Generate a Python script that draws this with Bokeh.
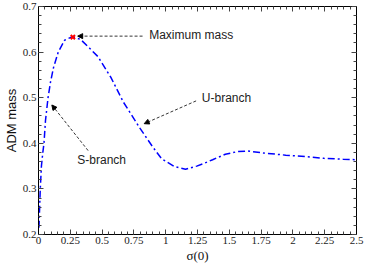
from bokeh.plotting import figure
from bokeh.models import (Range1d, FixedTicker, LinearAxis, Arrow, NormalHead,
                          ColumnDataSource, CustomJSTickFormatter)
from bokeh.core.properties import value
from bokeh.embed import file_html
from bokeh.resources import INLINE

# ---- data ----
sigma0 = [0.003, 0.005, 0.009, 0.014, 0.023, 0.034, 0.043, 0.055, 0.075, 0.095,
          0.118, 0.155, 0.205, 0.268, 0.33, 0.40, 0.468, 0.568, 0.668, 0.793,
          0.893, 0.968, 1.068, 1.156, 1.244, 1.30, 1.369, 1.469, 1.569, 1.644,
          1.794, 1.944, 2.094, 2.245, 2.395, 2.5]
adm_mass = [0.215, 0.225, 0.26, 0.30, 0.35, 0.38, 0.40, 0.45, 0.50, 0.535,
            0.566, 0.600, 0.626, 0.634, 0.628, 0.609, 0.590, 0.545, 0.490, 0.435,
            0.394, 0.366, 0.349, 0.343, 0.350, 0.356, 0.364, 0.376, 0.382, 0.383,
            0.378, 0.374, 0.371, 0.367, 0.365, 0.364]

max_sigma = [0.27]
max_mass = [0.633]

x_ticks = [0, 0.25, 0.5, 0.75, 1, 1.25, 1.5, 1.75, 2, 2.25, 2.5]
x_tick_labels = ["0", "0.25", "0.5", "0.75", "1", "1.25", "1.5", "1.75", "2", "2.25", "2.5"]
y_ticks = [0.2, 0.3, 0.4, 0.5, 0.6, 0.7]
y_tick_labels = ["0.2", "0.3", "0.4", "0.5", "0.6", "0.7"]
x_minor = [round(i * 0.05, 2) for i in range(51)]
y_minor = [round(0.2 + i * 0.02, 2) for i in range(26)]

ann_texts = ["Maximum mass", "U-branch", "S-branch"]
ann_text_x = [0.87, 1.284, 0.305]
ann_text_y = [0.638, 0.500, 0.3626]
arrow_x_start = [0.818, 1.239, 0.39]
arrow_y_start = [0.635, 0.493, 0.384]
arrow_x_end = [0.308, 0.831, 0.105]
arrow_y_end = [0.635, 0.443, 0.484]

# ---- figure ----
p = figure(width=366, height=265, x_range=Range1d(0, 2.5), y_range=Range1d(0.2, 0.7),
           output_backend="svg", toolbar_location=None,
           min_border_left=0, min_border_right=10, min_border_top=6, min_border_bottom=0,
           x_axis_label="σ(0)", y_axis_label="ADM mass")
p.grid.visible = False
p.outline_line_color = "black"
p.outline_line_width = 1
p.background_fill_color = "white"
p.border_fill_color = "white"

p.add_layout(LinearAxis(), "above")
p.add_layout(LinearAxis(), "right")


def style(ax, ticks, minor, labels, show):
    ax.ticker = FixedTicker(ticks=ticks, minor_ticks=minor)
    ax.axis_line_color = "black"
    ax.major_tick_in = 5
    ax.major_tick_out = 0
    ax.minor_tick_in = 3
    ax.minor_tick_out = 0
    ax.major_tick_line_color = "#444444"
    ax.minor_tick_line_color = "#444444"
    if show:
        ax.major_label_overrides = {t: l for t, l in zip(ticks, labels)}
        ax.major_label_text_font = "Liberation Serif"
        ax.major_label_text_font_size = "11px"
        ax.major_label_text_color = "#222222"
        ax.major_label_standoff = 2
        ax.axis_label_standoff = 1
        ax.axis_label_text_font_style = "normal"
        ax.axis_label_text_color = "#111111"
        ax.axis_label_text_font_size = "13px"
    else:
        ax.formatter = CustomJSTickFormatter(code="return ''")
        ax.major_label_standoff = 0
        ax.axis_label = None


style(p.below[0], x_ticks, x_minor, x_tick_labels, True)
style(p.left[0], y_ticks, y_minor, y_tick_labels, True)
style(p.above[0], x_ticks, x_minor, x_tick_labels, False)
style(p.right[0], y_ticks, y_minor, y_tick_labels, False)
p.below[0].axis_label_text_font = "Liberation Serif"
p.left[0].axis_label_text_font = "Liberation Sans"

# curve
p.line(sigma0, adm_mass, line_color="#0000ff", line_width=1.5, line_dash="7 3 2 3")

# maximum mass marker
p.scatter(max_sigma, max_mass, marker="x", size=6, line_color="red", line_width=2)

# arrows
for xs, ys, xe, ye in zip(arrow_x_start, arrow_y_start, arrow_x_end, arrow_y_end):
    p.add_layout(Arrow(end=NormalHead(size=5, fill_color="black", line_color="black"),
                       x_start=xs, y_start=ys, x_end=xe, y_end=ye,
                       line_color="black", line_width=0.8, line_dash="3 2"))

src = ColumnDataSource(dict(x=ann_text_x, y=ann_text_y, t=ann_texts))
p.text("x", "y", text="t", source=src, text_font=value("Liberation Sans"),
       text_font_size="12px", text_baseline="middle", text_align="left",
       text_color="#222222")

open("out.html", "w").write(file_html(p, INLINE))
